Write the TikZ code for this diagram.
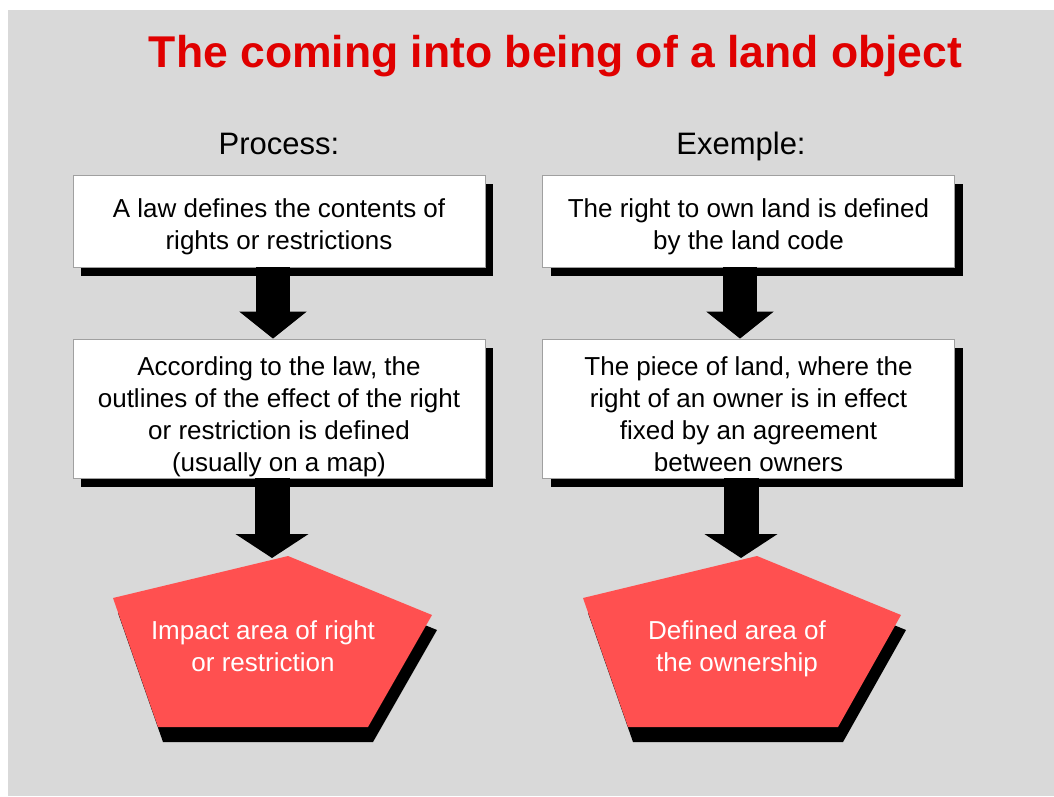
\documentclass[tikz,border=0pt]{standalone}
\usepackage{fontspec}
\setmainfont{Liberation Sans}
\usetikzlibrary{arrows.meta,shadows}
\definecolor{bg}{HTML}{D9D9D9}
\definecolor{titlered}{HTML}{E00000}
\definecolor{pentred}{HTML}{FF5050}
\definecolor{boxline}{HTML}{A0A0A0}
\begin{document}
\begin{tikzpicture}[x=1pt,y=-1pt,
  box/.style={draw=boxline, line width=0.8pt, fill=white, minimum width=412pt, minimum height=#1, inner sep=0pt,
    drop shadow={shadow xshift=8pt, shadow yshift=-9pt, fill=black, opacity=1}},
  box/.default=92pt,
  boxtext/.style={align=center, inner sep=0pt, font=\fontsize{26}{32}\selectfont},
  pentext/.style={align=center, inner sep=0pt, text=white, font=\fontsize{26}{32}\selectfont},
  heading/.style={anchor=base, inner sep=0pt, font=\fontsize{31}{36}\selectfont},
  arrowA/.style={line width=34pt, -{Triangle[width=66pt,length=27pt]}},
  arrowB/.style={line width=35pt, -{Triangle[width=72pt,length=24pt]}}
]
\useasboundingbox (0,0) rectangle (1054,796);
\fill[white] (0,0) rectangle (1054,796);
\fill[bg] (8,10) rectangle (1054,796);

\node[anchor=base, inner sep=0pt, text=titlered, font=\fontsize{44.5}{50}\selectfont\bfseries] (title) at (555.5,67) {The coming into being of a land object};
\node[heading] (hproc) at (279,154) {Process:};
\node[heading] (hex) at (741,154) {Exemple:};

% boxes
\node[box] (b1) at (279,221) {};
\node[box] (b2) at (748.5,221) {};
\node[box=139pt] (b3) at (279,408.5) {};
\node[box=139pt] (b4) at (748.5,408.5) {};

\node[boxtext] (t1) at (279,227) {A law defines the contents of\\rights or restrictions};
\node[boxtext] (t2) at (748.5,227) {The right to own land is defined\\by the land code};
\node[boxtext] (t3) at (279,417) {According to the law, the\\outlines of the effect of the right\\or restriction is defined\\(usually on a map)};
\node[boxtext] (t4) at (748.5,414) {The piece of land, where the\\right of an owner is in effect\\fixed by an agreement\\between owners};

% pentagons
\fill[black, shift={(5,15)}] (288,556) -- (432,615) -- (368,727) -- (158,727) -- (113,598) -- cycle;
\fill[pentred] (288,556) -- (432,615) -- (368,727) -- (158,727) -- (113,598) -- cycle;
\fill[black, shift={(5,15)}] (757,556) -- (901,615) -- (838,727) -- (628,727) -- (583,598) -- cycle;
\fill[pentred] (757,556) -- (901,615) -- (838,727) -- (628,727) -- (583,598) -- cycle;

\node[pentext] (p1) at (263,646) {Impact area of right\\or restriction};
\node[pentext] (p2) at (737,649) {Defined area of\\the ownership};

% arrow guides
\coordinate (c1) at (273,0);
\coordinate (c2) at (740,0);
\coordinate (tip1) at (272,558);
\coordinate (tip2) at (741,558);

\draw[arrowA] (b1.south -| c1) -- (b3.north -| c1);
\draw[arrowA] (b2.south -| c2) -- (b4.north -| c2);
\draw[arrowB] (b3.south -| tip1) -- (tip1);
\draw[arrowB] (b4.south -| tip2) -- (tip2);
\end{tikzpicture}
\end{document}
